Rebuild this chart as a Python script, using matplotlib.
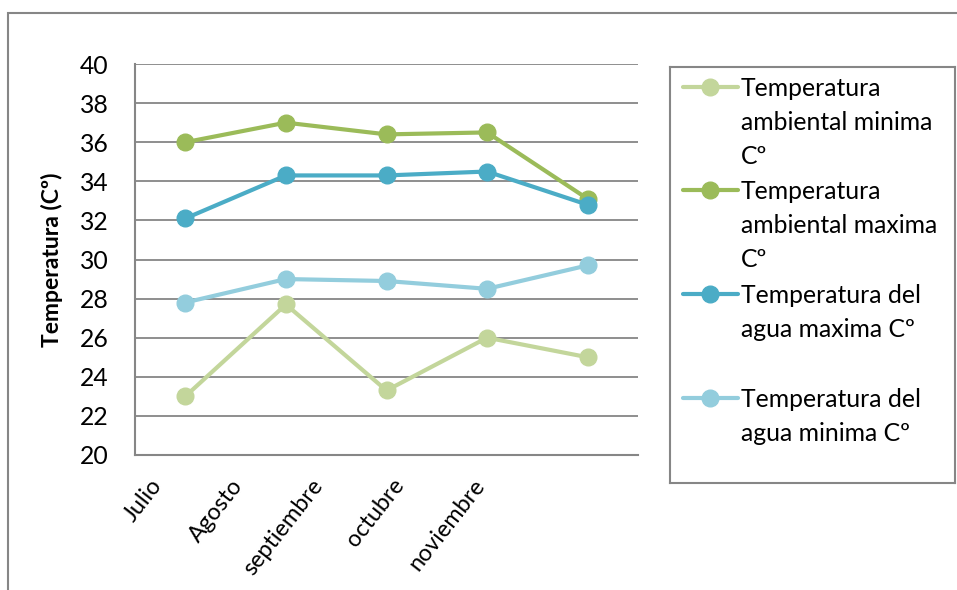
import matplotlib.pyplot as plt
from matplotlib.lines import Line2D
from matplotlib.patches import Rectangle
from matplotlib.transforms import ScaledTranslation, blended_transform_factory

meses = ["Julio", "Agosto", "septiembre", "octubre", "noviembre"]

amb_min = [23.0, 27.7, 23.3, 26.0, 25.0]
amb_max = [36.0, 37.0, 36.4, 36.5, 33.1]
agua_max = [32.1, 34.3, 34.3, 34.5, 32.8]
agua_min = [27.8, 29.0, 28.9, 28.5, 29.7]

series = [
    ("Temperatura\nambiental minima\nCº", amb_min, "#C3D69B"),
    ("Temperatura\nambiental maxima\nCº", amb_max, "#9BBB59"),
    ("Temperatura del\nagua maxima Cº", agua_max, "#4BACC6"),
    ("Temperatura del\nagua minima Cº", agua_min, "#93CDDD"),
]

W, H = 957, 590
GREY = "#868686"
FONT = "Lato"
FS = 17.8

plt.rcParams["font.family"] = [FONT, "DejaVu Sans"]

fig = plt.figure(figsize=(W / 100, H / 100), dpi=100)


def fx(px):
    return px / W


def fy(py):
    return 1 - py / H


# outer chart frame (only top and left edges fall inside the image)
fig.patches.append(Rectangle((fx(8), -0.1), 1.2, fy(13) + 0.1, transform=fig.transFigure,
                             fill=False, edgecolor=GREY, lw=1.5))

ax = fig.add_axes([fx(135), fy(455), fx(638) - fx(135), fy(64) - fy(455)])
x = list(range(len(meses)))
for label, vals, color in series:
    ax.plot(x, vals, color=color, lw=3, marker="o", markersize=12, label=label,
            solid_capstyle="round")

ax.set_xlim(-0.5, len(meses) - 0.5)
ax.set_ylim(20, 40)
ax.set_yticks(range(20, 41, 2))
ax.tick_params(axis="y", length=0, labelsize=FS, pad=19)
ax.set_xticks(x)
ax.set_xticklabels([])
ax.tick_params(axis="x", length=0)
ax.yaxis.grid(True, color=GREY, lw=1.3)
ax.set_axisbelow(True)
for side in ("top", "right"):
    ax.spines[side].set_visible(False)
for side in ("left", "bottom"):
    ax.spines[side].set_color(GREY)
    ax.spines[side].set_linewidth(1.5)

ax.set_ylabel("Temperatura (Cº)", fontsize=16.5, fontweight="bold", labelpad=12)

# rotated month labels, anchored at their upper-right end
trans = blended_transform_factory(ax.transData, ax.transAxes)
for i, m in enumerate(meses):
    shift = ScaledTranslation(-(36 + 19.8 * i) / 100, -20 / 100, fig.dpi_scale_trans)
    ax.text(i, 0, m, transform=trans + shift, rotation=52, rotation_mode="anchor",
            ha="right", va="top", fontsize=16.8)

# legend box
lg = fig.add_axes([fx(670), fy(483), fx(955) - fx(670), fy(67) - fy(483)])
lg.set_xlim(670, 955)
lg.set_ylim(483, 67)
lg.set_xticks([])
lg.set_yticks([])
for s in lg.spines.values():
    s.set_color(GREY)
    s.set_linewidth(1.5)
entry_y = [87, 190, 294, 398]
for (label, vals, color), yy in zip(series, entry_y):
    lg.add_line(Line2D([683, 738], [yy, yy], color=color, lw=3, solid_capstyle="round"))
    lg.plot([710], [yy], marker="o", markersize=12, color=color)
    lg.text(741, yy - 10, label, ha="left", va="top", fontsize=FS, linespacing=1.58)

fig.savefig("out.png", dpi=100)
